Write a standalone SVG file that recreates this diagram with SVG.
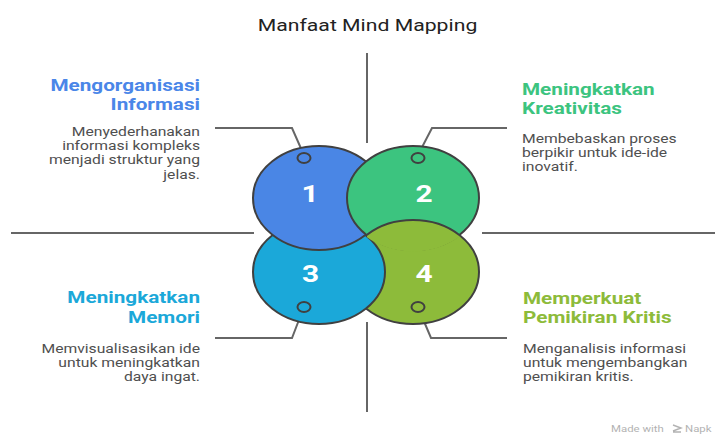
<svg xmlns="http://www.w3.org/2000/svg" width="715" height="435" viewBox="0 0 715 435">
<style>
text{font-family:Roboto,"Liberation Sans",Arial,sans-serif}
.title{font-size:16.7px;fill:#222}
.head{font-size:16.3px;font-weight:700}
.body{font-size:12.35px;fill:#4f4f4f}
.num{font-size:23.5px;font-weight:700;fill:#fff;text-anchor:middle}
.ring{stroke:#404040;stroke-width:2}
.line{stroke:#666;stroke-width:2;fill:none}
.wm{font-size:9.5px;fill:#b3b3b3}
</style>
<defs>
<clipPath id="clip2"><ellipse cx="413" cy="198" rx="67.5" ry="53.5"/></clipPath>
<clipPath id="clipRight"><rect x="367" y="140" width="120" height="120"/></clipPath>
</defs>
<rect width="715" height="435" fill="#fff"/>
<g transform="translate(367.5,31) scale(1.27,1)"><text class="title" text-anchor="middle">Manfaat Mind Mapping</text></g>

<g id="connectors">
<line class="line" x1="367" y1="53" x2="367" y2="143"/>
<line class="line" x1="367" y1="322" x2="367" y2="412"/>
<line class="line" x1="11" y1="233" x2="254" y2="233"/>
<line class="line" x1="482" y1="233" x2="715" y2="233"/>
<polyline class="line" points="303,153 292,128 215,128"/>
<polyline class="line" points="419,153 432,128 507,128"/>
<polyline class="line" points="302,312 292,338 215,338"/>
<polyline class="line" points="420,312 431,338 507,338"/>
</g>

<g id="venn">
<ellipse class="ring" cx="413" cy="272" rx="66" ry="52" fill="#8DBB3A"/>
<ellipse class="ring" cx="319" cy="272" rx="66" ry="52" fill="#1BA8D9"/>
<ellipse class="ring" cx="319" cy="198" rx="66" ry="52" fill="#4A86E5"/>
<ellipse class="ring" cx="413" cy="198" rx="66" ry="52" fill="#3CC47F"/>
<g clip-path="url(#clipRight)"><ellipse class="ring" cx="413" cy="272" rx="66" ry="52" fill="#8DBB3A" clip-path="url(#clip2)"/></g>
</g>

<g id="node1">
<ellipse class="ring" cx="304" cy="158" rx="6.5" ry="5" fill="#4A86E5"/>
<g transform="translate(310,202) scale(1.27,1)"><text class="num">1</text></g>
<g transform="translate(200,91) scale(1.27,1)"><text class="head" fill="#4A86E8" text-anchor="end"><tspan x="0" y="0">Mengorganisasi</tspan><tspan x="0" y="19.5">Informasi</tspan></text></g>
<g transform="translate(200,136) scale(1.27,1)"><text class="body" text-anchor="end"><tspan x="0" y="0">Menyederhanakan</tspan><tspan x="0" y="14.2">informasi kompleks</tspan><tspan x="0" y="28.4">menjadi struktur yang</tspan><tspan x="0" y="42.6">jelas.</tspan></text></g>
</g>

<g id="node2">
<ellipse class="ring" cx="418" cy="158" rx="6.5" ry="5" fill="#3CC47F"/>
<g transform="translate(424,202) scale(1.27,1)"><text class="num">2</text></g>
<g transform="translate(522,95) scale(1.27,1)"><text class="head" fill="#3CC47F"><tspan x="0" y="0">Meningkatkan</tspan><tspan x="0" y="19.5">Kreativitas</tspan></text></g>
<g transform="translate(522,143) scale(1.27,1)"><text class="body"><tspan x="0" y="0">Membebaskan proses</tspan><tspan x="0" y="14.2">berpikir untuk ide-ide</tspan><tspan x="0" y="28.4">inovatif.</tspan></text></g>
</g>

<g id="node3">
<ellipse class="ring" cx="304" cy="307" rx="6.5" ry="5" fill="#1BA8D9"/>
<g transform="translate(310.5,282) scale(1.27,1)"><text class="num">3</text></g>
<g transform="translate(200,303) scale(1.27,1)"><text class="head" fill="#1BA8D9" text-anchor="end"><tspan x="0" y="0">Meningkatkan</tspan><tspan x="0" y="20">Memori</tspan></text></g>
<g transform="translate(200,353) scale(1.27,1)"><text class="body" text-anchor="end"><tspan x="0" y="0">Memvisualisasikan ide</tspan><tspan x="0" y="14">untuk meningkatkan</tspan><tspan x="0" y="28">daya ingat.</tspan></text></g>
</g>

<g id="node4">
<ellipse class="ring" cx="418" cy="307" rx="6.5" ry="5" fill="#8DBB3A"/>
<g transform="translate(424,282) scale(1.27,1)"><text class="num">4</text></g>
<g transform="translate(523,304) scale(1.27,1)"><text class="head" fill="#8DBB3A"><tspan x="0" y="0">Memperkuat</tspan><tspan x="0" y="19.5">Pemikiran Kritis</tspan></text></g>
<g transform="translate(523,353) scale(1.27,1)"><text class="body"><tspan x="0" y="0">Menganalisis informasi</tspan><tspan x="0" y="14">untuk mengembangkan</tspan><tspan x="0" y="28">pemikiran kritis.</tspan></text></g>
</g>

<g id="watermark">
<g transform="translate(611,432) scale(1.2,1)"><text class="wm">Made with</text></g>
<path d="M673,425 L681,428 L673,431 M673,432 L681,432" stroke="#b3b3b3" stroke-width="1.4" fill="none"/>
<g transform="translate(685,432) scale(1.2,1)"><text class="wm">Napk</text></g>
</g>
</svg>
